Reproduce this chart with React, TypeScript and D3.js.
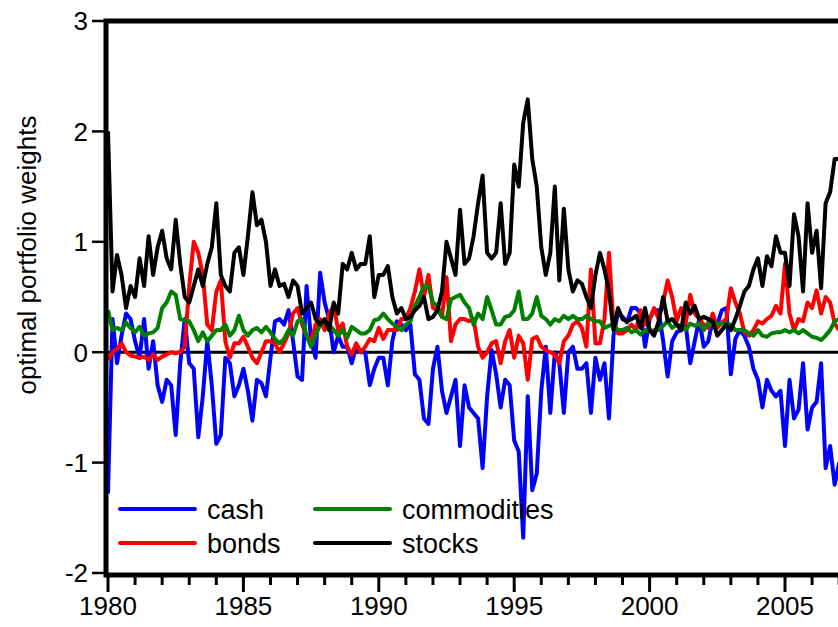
import React from 'react'
import * as d3 from 'd3'

// bimonthly observations starting Jan 1980
const startYear = 1980
const stepMonths = 2

const cash = [
  -1.28, 0.3, -0.1, 0.15, 0.35, 0.3, 0.1, -0.05, 0.3, -0.15, 0.1, -0.3,
  -0.45, -0.25, -0.3, -0.75, -0.1, 0.3, -0.1, -0.15, -0.77, -0.4, 0.1, -0.3,
  -0.83, -0.75, -0.05, -0.1, -0.4, -0.3, -0.15, -0.35, -0.62, -0.25, -0.28, -0.4,
  -0.05, 0.28, 0.3, 0.25, 0.38, 0.1, -0.22, -0.25, 0.6, 0.1, -0.05, 0.72,
  0.45, 0.3, 0.0, 0.15, 0.05, 0.05, -0.1, 0.05, 0.0, 0.0, -0.3, -0.15,
  -0.05, -0.05, -0.3, 0.1, 0.28, 0.25, 0.2, 0.25, -0.2, -0.25, -0.6, -0.65,
  -0.15, 0.05, -0.35, -0.55, -0.4, -0.25, -0.85, -0.3, -0.5, -0.55, -0.6, -1.05,
  -0.4, 0.02, -0.2, -0.5, -0.25, -0.3, -0.8, -0.9, -1.68, -0.4, -1.25, -1.1,
  -0.35, 0.05, -0.55, 0.0, -0.1, -0.55, 0.0, 0.05, -0.15, -0.15, -0.1, -0.55,
  -0.05, -0.25, -0.1, -0.6, 0.15, 0.36, 0.32, 0.27, 0.4, 0.4, 0.35, 0.05,
  0.3, 0.38, 0.38, 0.1, -0.22, 0.1, 0.18, 0.2, 0.25, -0.1, 0.1, 0.3,
  0.05, 0.1, 0.3, 0.25, 0.38, 0.4, -0.2, 0.12, 0.2, 0.15, 0.05, -0.15,
  -0.25, -0.5, -0.25, -0.35, -0.4, -0.35, -0.85, -0.25, -0.6, -0.52, -0.1, -0.7,
  -0.5, -0.45, -0.1, -1.05, -0.85, -1.2, -1.0,
]

const bonds = [
  -0.07, 0.0, 0.03, 0.08, 0.0, -0.03, -0.04, -0.05, -0.04, -0.07, -0.02, -0.07,
  -0.04, -0.02, 0.0, -0.01, 0.0, 0.05, 0.6, 1.0, 0.9, 0.7, 0.25, 0.2,
  0.55, 0.65, 0.1, -0.05, 0.08, 0.08, 0.14, 0.05, -0.05, -0.1, 0.0, 0.1,
  0.1, 0.08, 0.0, 0.08, 0.17, 0.35, 0.4, 0.25, 0.15, 0.1, 0.25, 0.3,
  0.2, 0.35, 0.42, 0.2, 0.26, 0.05, -0.02, 0.08, 0.0, 0.05, 0.12, 0.1,
  0.22, 0.12, 0.2, 0.2, 0.2, 0.3, 0.3, 0.4, 0.55, 0.75, 0.5, 0.7,
  0.4, 0.38, 0.32, 0.68, 0.1, 0.25, 0.3, 0.3, 0.28, 0.3, 0.05, -0.05,
  0.0, 0.08, 0.1, -0.1, 0.1, 0.2, -0.05, 0.15, 0.08, -0.25, 0.12, 0.14,
  0.05, 0.02, 0.0, -0.02, -0.1, 0.1, 0.15, 0.25, 0.28, 0.22, 0.05, 0.75,
  0.08, 0.08, 0.3, 0.9, 0.25, 0.17, 0.17, 0.2, 0.25, 0.2, 0.38, 0.25,
  0.3, 0.4, 0.3, 0.45, 0.65, 0.5, 0.28, 0.4, 0.26, 0.52, 0.35, 0.3,
  0.25, 0.22, 0.35, 0.22, 0.27, 0.3, 0.58, 0.45, 0.35, 0.18, 0.15, 0.2,
  0.28, 0.26, 0.3, 0.33, 0.42, 0.35, 0.8, 0.35, 0.2, 0.3, 0.28, 0.45,
  0.4, 0.56, 0.35, 0.5, 0.45, 0.26, 0.2,
]

const commodities = [
  0.38, 0.2, 0.22, 0.2, 0.27, 0.22, 0.18, 0.23, 0.15, 0.17, 0.18, 0.22,
  0.4, 0.45, 0.55, 0.52, 0.3, 0.29, 0.28, 0.2, 0.1, 0.18, 0.1, 0.15,
  0.2, 0.2, 0.25, 0.15, 0.2, 0.33, 0.2, 0.15, 0.2, 0.22, 0.18, 0.23,
  0.18, 0.12, 0.08, 0.12, 0.2, 0.15, 0.28, 0.3, 0.15, 0.05, 0.15, 0.25,
  0.26, 0.25, 0.2, 0.15, 0.2, 0.13, 0.23, 0.2, 0.17, 0.17, 0.2, 0.29,
  0.3, 0.35, 0.3, 0.26, 0.23, 0.2, 0.25, 0.28, 0.42, 0.5, 0.6, 0.6,
  0.45, 0.42, 0.32, 0.3, 0.48, 0.5, 0.52, 0.45, 0.4, 0.25, 0.35, 0.3,
  0.5, 0.38, 0.25, 0.25, 0.32, 0.33, 0.38, 0.55, 0.3, 0.3, 0.35, 0.5,
  0.33, 0.3, 0.25, 0.3, 0.28, 0.33, 0.3, 0.33, 0.3, 0.3, 0.33, 0.3,
  0.28, 0.28, 0.22, 0.24, 0.25, 0.2, 0.2, 0.22, 0.18, 0.2, 0.16, 0.2,
  0.19, 0.2, 0.2, 0.24, 0.28, 0.22, 0.25, 0.24, 0.2, 0.26, 0.24, 0.26,
  0.2, 0.27, 0.25, 0.26, 0.26, 0.26, 0.25, 0.2, 0.2, 0.2, 0.17, 0.15,
  0.2, 0.15, 0.14, 0.17, 0.18, 0.18, 0.2, 0.18, 0.2, 0.17, 0.2, 0.17,
  0.14, 0.13, 0.11, 0.15, 0.2, 0.28, 0.3,
]

const stocks = [
  2.0, 0.55, 0.88, 0.7, 0.4, 0.6, 0.5, 0.85, 0.6, 1.05, 0.7, 0.95,
  1.1, 0.85, 0.75, 1.2, 0.8, 0.5, 0.45, 0.6, 0.75, 0.6, 0.8, 0.95,
  1.35, 0.7, 0.6, 0.55, 0.9, 0.95, 0.7, 1.05, 1.45, 1.15, 1.2, 1.0,
  0.6, 0.75, 0.6, 0.62, 0.5, 0.65, 0.6, 0.35, 0.4, 0.45, 0.3, 0.25,
  0.3, 0.2, 0.45, 0.35, 0.8, 0.75, 0.9, 0.75, 0.8, 0.8, 1.05, 0.5,
  0.7, 0.7, 0.78, 0.5, 0.35, 0.4, 0.3, 0.32, 0.38, 0.42, 0.5, 0.3,
  0.32, 0.38, 0.55, 1.0, 0.85, 0.7, 1.29, 0.8, 0.85, 1.05, 1.35, 1.6,
  0.9, 0.85, 0.9, 1.35, 0.8, 0.9, 1.7, 1.5, 2.08, 2.29, 1.75, 1.5,
  0.95, 0.7, 0.9, 1.5, 0.65, 1.3, 0.75, 0.55, 0.65, 0.62, 0.5, 0.4,
  0.7, 0.9, 0.75, 0.55, 0.2, 0.4, 0.3, 0.28, 0.3, 0.33, 0.22, 0.4,
  0.2, 0.15, 0.28, 0.5, 0.28, 0.3, 0.25, 0.2, 0.45, 0.35, 0.42, 0.3,
  0.32, 0.3, 0.28, 0.15, 0.2, 0.25, 0.2, 0.3, 0.42, 0.55, 0.6, 0.75,
  0.85, 0.6, 0.87, 0.78, 1.05, 0.9, 0.9, 0.6, 1.25, 1.05, 0.55, 1.35,
  0.9, 1.1, 0.58, 1.35, 1.45, 1.75, 1.75,
]

const seriesNames = ['cash', 'bonds', 'commodities', 'stocks']
const seriesColors = ['#0000ff', '#ff0000', '#008000', '#000000']
const yTicks = [-2, -1, 0, 1, 2, 3]
const xLabels = ['1980', '1985', '1990', '1995', '2000', '2005']
const xDomain = [1980, 2008]

const FONT = '"Liberation Sans", Arial, Helvetica, sans-serif'

const WeightsChart = () => {
  const svgRef = React.useRef(null)
  const width = 838
  const height = 627

  React.useEffect(() => {
    const allSeries = [cash, bonds, commodities, stocks]
    const x = d3
      .scaleLinear()
      .domain(xDomain)
      .range([108, 108 + (xDomain[1] - xDomain[0]) * 27.08])
    const y = d3.scaleLinear().domain([-2, 3]).range([573, 21])

    const svgEl = d3.select(svgRef.current)
    svgEl.selectAll('*').remove()

    const frameLeft = 106
    const frameTop = 21
    const frameBottom = 575
    const frameRight = x(xDomain[1])

    svgEl
      .append('defs')
      .append('clipPath')
      .attr('id', 'plot-clip')
      .append('rect')
      .attr('x', frameLeft)
      .attr('y', frameTop)
      .attr('width', frameRight - frameLeft)
      .attr('height', frameBottom - frameTop)

    // zero line
    svgEl
      .append('line')
      .attr('x1', frameLeft)
      .attr('x2', frameRight)
      .attr('y1', y(0))
      .attr('y2', y(0))
      .attr('stroke', '#000')
      .attr('stroke-width', 3)

    // series
    const line = d3
      .line()
      .x((d, i) => x(startYear + (i * stepMonths) / 12))
      .y((d) => y(d))

    const plot = svgEl.append('g').attr('clip-path', 'url(#plot-clip)')
    plot
      .selectAll('.series')
      .data(allSeries)
      .enter()
      .append('path')
      .attr('class', 'series')
      .attr('fill', 'none')
      .attr('stroke', (d, i) => seriesColors[i])
      .attr('stroke-width', 4)
      .attr('stroke-linejoin', 'round')
      .attr('d', (d) => line(d))

    // frame
    svgEl
      .append('rect')
      .attr('x', frameLeft)
      .attr('y', frameTop)
      .attr('width', frameRight - frameLeft)
      .attr('height', frameBottom - frameTop)
      .attr('fill', 'none')
      .attr('stroke', '#000')
      .attr('stroke-width', 5)

    // y ticks
    const yg = svgEl.append('g')
    yTicks.forEach((v) => {
      yg.append('line')
        .attr('x1', 92)
        .attr('x2', frameLeft)
        .attr('y1', y(v))
        .attr('y2', y(v))
        .attr('stroke', '#000')
        .attr('stroke-width', 2.5)
      yg.append('text')
        .attr('x', 88)
        .attr('y', y(v))
        .attr('dy', '0.36em')
        .attr('text-anchor', 'end')
        .attr('font-family', FONT)
        .attr('font-size', 26)
        .text(String(v))
    })

    // x ticks: yearly minor, 5-yearly major
    const xg = svgEl.append('g')
    d3.range(xDomain[0], xDomain[1] + 1).forEach((yr) => {
      const major = (yr - 1980) % 5 === 0
      xg.append('line')
        .attr('x1', x(yr))
        .attr('x2', x(yr))
        .attr('y1', frameBottom)
        .attr('y2', major ? 592 : 585)
        .attr('stroke', '#000')
        .attr('stroke-width', 3)
    })
    xLabels.forEach((lab) => {
      xg.append('text')
        .attr('x', x(+lab))
        .attr('y', 615)
        .attr('text-anchor', 'middle')
        .attr('font-family', FONT)
        .attr('font-size', 26)
        .text(lab)
    })

    // y title
    svgEl
      .append('text')
      .attr('transform', 'translate(36,255) rotate(-90)')
      .attr('text-anchor', 'middle')
      .attr('font-family', FONT)
      .attr('font-size', 26)
      .text('optimal portfolio weights')

    // legend, two columns
    const legend = svgEl.append('g')
    seriesNames.forEach((name, i) => {
      const col = Math.floor(i / 2)
      const row = i % 2
      const lx = 120 + col * 195
      const ly = 509 + row * 34
      legend
        .append('line')
        .attr('x1', lx)
        .attr('x2', lx + 75)
        .attr('y1', ly)
        .attr('y2', ly)
        .attr('stroke', seriesColors[i])
        .attr('stroke-width', 4)
        .attr('stroke-linecap', 'round')
      legend
        .append('text')
        .attr('x', lx + 87)
        .attr('y', ly + 10)
        .attr('font-family', FONT)
        .attr('font-size', 27)
        .text(name)
    })
  }, [])

  return (
    <svg
      ref={svgRef}
      width={width}
      height={height}
      style={{ position: 'absolute', left: 0, top: 0, background: '#fff' }}
    />
  )
}

export default function App() {
  return <WeightsChart />
}
